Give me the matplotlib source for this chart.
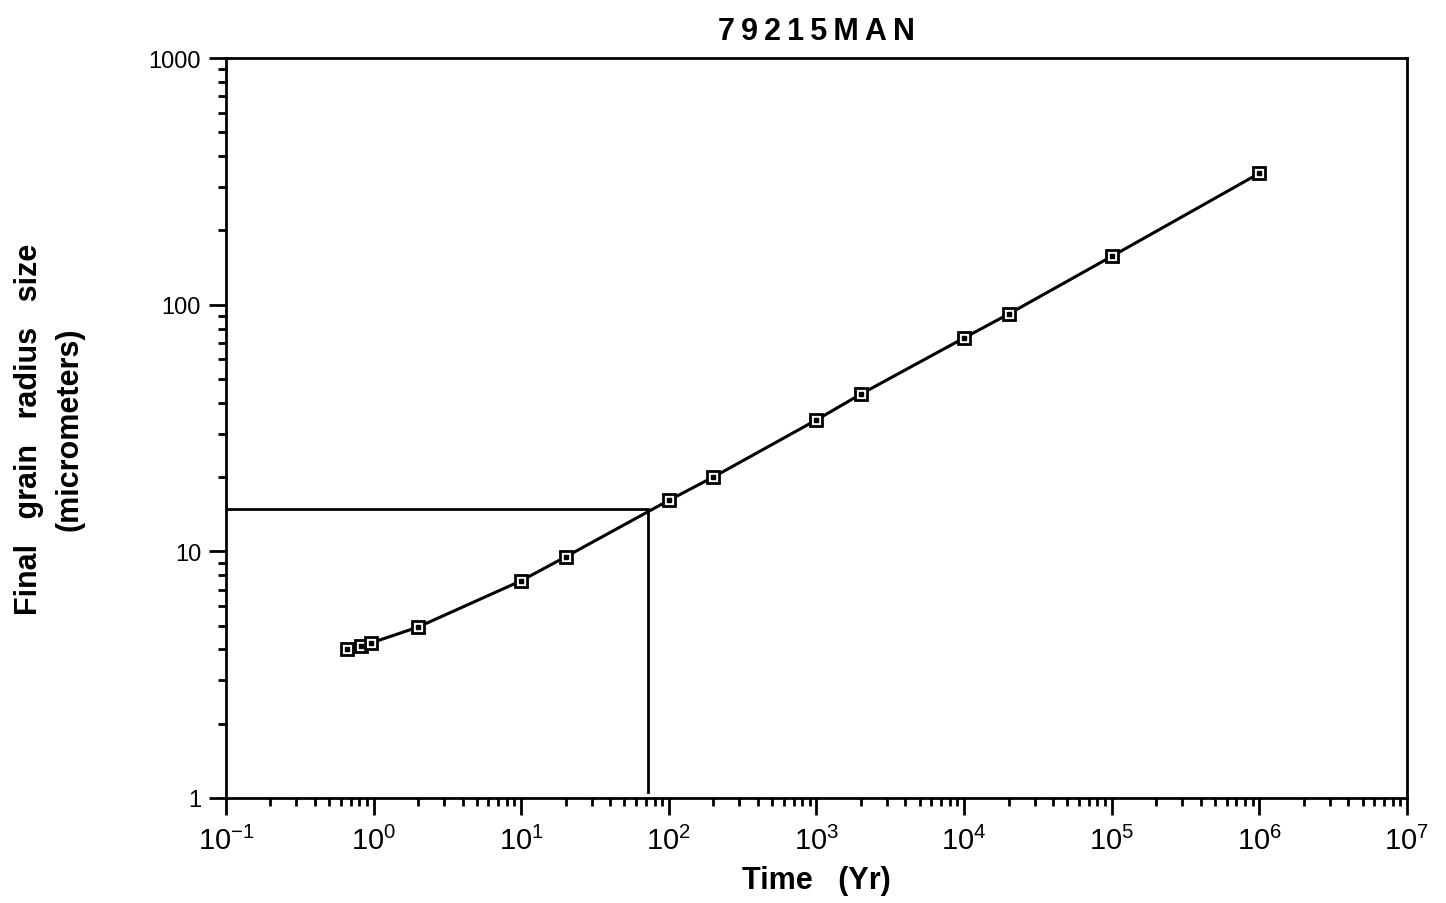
import math
import matplotlib
matplotlib.use("Agg")
import matplotlib.pyplot as plt
from matplotlib.ticker import LogLocator, FixedLocator, FuncFormatter, NullFormatter

plt.rcParams['font.family'] = ['Liberation Sans', 'DejaVu Sans']
plt.rcParams['mathtext.fontset'] = 'custom'
plt.rcParams['mathtext.rm'] = 'Liberation Sans'
plt.rcParams['mathtext.it'] = 'Liberation Sans'
plt.rcParams['mathtext.bf'] = 'Liberation Sans:bold'

title = "79215MAN"
time_yr = [0.66, 0.82, 0.96, 2, 10, 20, 100, 200, 1000, 2000, 1e4, 2e4, 1e5, 1e6]
radius_um = [4.02, 4.13, 4.25, 4.93, 7.6, 9.5, 16.1, 20.0, 34.1, 43.4, 73.3, 91.6, 157, 341]
ref_time = 72
ref_radius = 14.8
x_exponents = [-1, 0, 1, 2, 3, 4, 5, 6, 7]
y_ticks = [1, 10, 100, 1000]

fig = plt.figure(figsize=(14.46, 9.04), dpi=100)
ax = fig.add_axes([0.1563, 0.1162, 0.8167, 0.8185])

ax.plot(time_yr, radius_um, color='black', lw=2.2, zorder=3)
ax.plot(time_yr, radius_um, ls='none', marker='s', ms=9, mfc='white', mec='black', mew=2.0, zorder=4)
ax.plot(time_yr, radius_um, ls='none', marker='s', ms=2.2, mfc='black', mec='black', zorder=5)

# reference lines
ax.plot([0.1, ref_time * 0.97], [ref_radius, ref_radius], color='black', lw=2.0, zorder=2)
ax.plot([ref_time, ref_time], [ref_radius, 1.06], color='black', lw=2.0, zorder=2)

ax.set_xscale('log')
ax.set_yscale('log')
ax.set_xlim(0.1, 1e7)
ax.set_ylim(1, 1000)

ax.xaxis.set_major_locator(FixedLocator([10.0 ** e for e in x_exponents]))
ax.xaxis.set_major_formatter(FuncFormatter(lambda v, p: r"$\mathregular{10^{%d}}$" % round(math.log10(v))))
ax.xaxis.set_minor_locator(LogLocator(base=10, subs=range(2, 10), numticks=100))
ax.xaxis.set_minor_formatter(NullFormatter())
ax.yaxis.set_major_locator(FixedLocator(y_ticks))
ax.yaxis.set_major_formatter(FuncFormatter(lambda v, p: "%d" % v))
ax.yaxis.set_minor_locator(LogLocator(base=10, subs=range(2, 10), numticks=100))
ax.yaxis.set_minor_formatter(NullFormatter())

ax.tick_params(which='major', direction='out', length=12, width=2, labelsize=17, pad=6)
ax.tick_params(which='minor', direction='out', length=6, width=2)
ax.tick_params(axis='x', which='major', labelsize=21, pad=8)

for s in ax.spines.values():
    s.set_linewidth(2)

ax.set_title("\u2009".join(title), fontsize=22, fontweight='bold', pad=14)
ax.set_xlabel("Time   (Yr)", fontsize=22, fontweight='bold', labelpad=7)
ax.set_ylabel("Final   grain   radius   size\n(micrometers)", fontsize=22, fontweight='bold',
              labelpad=46, linespacing=1.45)

fig.savefig("out.png", dpi=100)
